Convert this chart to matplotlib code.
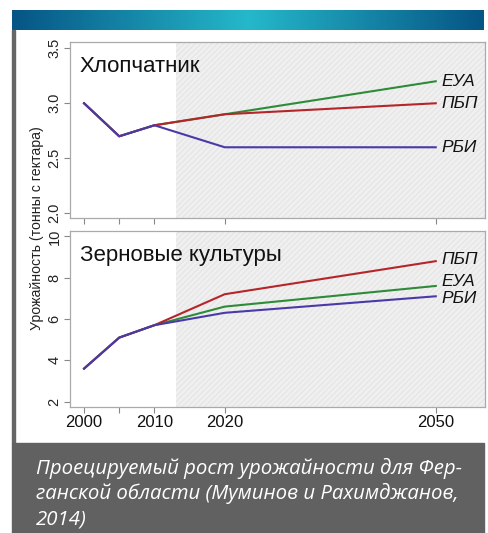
import numpy as np
import matplotlib
matplotlib.use("Agg")
import matplotlib.pyplot as plt
from matplotlib.patches import Rectangle

plt.rcParams['font.family'] = ['Liberation Sans', 'DejaVu Sans']

# data
years = [2000, 2005, 2010, 2020, 2050]
scenarios = ['ЕУА', 'ПБП', 'РБИ']
colors = ['#2e8b3a', '#b5262a', '#4a3aa8']

cotton = {
    'ЕУА': [3.0, 2.7, 2.8, 2.9, 3.2],
    'ПБП': [3.0, 2.7, 2.8, 2.9, 3.0],
    'РБИ': [3.0, 2.7, 2.8, 2.6, 2.6],
}
grain = {
    'ЕУА': [3.6, 5.1, 5.7, 6.6, 7.6],
    'ПБП': [3.6, 5.1, 5.7, 7.2, 8.8],
    'РБИ': [3.6, 5.1, 5.7, 6.3, 7.1],
}
cotton_yticks = [2.0, 2.5, 3.0, 3.5]
grain_yticks = [2, 4, 6, 8, 10]
xtick_labels = ['2000', '', '2010', '2020', '2050']
proj_start = 2013

W, H = 489, 533
fig = plt.figure(figsize=(W / 100, H / 100), dpi=100)

def box(x0, y0, x1, y1):
    # pixel box -> figure fractions
    return [x0 / W, 1 - y1 / H, (x1 - x0) / W, (y1 - y0) / H]

# header gradient band
ax_band = fig.add_axes(box(12, 10, 484, 30))
grad = np.linspace(0, 1, 256)
c_dark = np.array([0x06, 0x55, 0x85]) / 255
c_light = np.array([0x25, 0xb8, 0xca]) / 255
w = 1 - np.abs(grad - 0.5) * 2
img = c_dark[None, :] * (1 - w[:, None]) + c_light[None, :] * w[:, None]
ax_band.imshow(img[None, :, :], aspect='auto')
ax_band.axis('off')

# left border and caption box
fig.patches.append(Rectangle((12 / W, 1 - 443 / H), 3 / W, 413 / H,
                             transform=fig.transFigure, color='#666666', zorder=0))
fig.patches.append(Rectangle((12 / W, 0), 472 / W, 90 / H,
                             transform=fig.transFigure, color='#616161', zorder=0))
caption = ['Проецируемый рост урожайности для Фер-',
           'ганской области (Муминов и Рахимджанов,',
           '2014)']
for i, line in enumerate(caption):
    fig.text(36 / W, 1 - (468 + i * 25.5) / H, line, color='white', style='italic',
             fontsize=14.7, family=['Open Sans', 'DejaVu Sans'], va='center', ha='left')

ax1 = fig.add_axes(box(70, 42, 485, 218))
ax2 = fig.add_axes(box(70, 231, 485, 407))


def draw_panel(ax, data, ylim, yticks, title, offsets, show_x):
    ax.set_xlim(1998, 2057)
    ax.set_ylim(*ylim)
    ax.axvspan(proj_start, 2060, facecolor='#f0f0f0', edgecolor='#e6e6e6',
               hatch='//////', linewidth=0, zorder=0)
    for name, col in zip(scenarios, colors):
        ax.plot(years, data[name], color=col, lw=1.5, zorder=3)
        ax.annotate(name, (years[-1], data[name][-1]), xytext=(4, offsets[name]),
                    textcoords='offset points', ha='left', va='center',
                    style='italic', fontsize=12.5, color='#111111')
    ax.text(0.024, 0.86, title, transform=ax.transAxes, fontsize=16,
            ha='left', va='center', color='#111111')
    ax.set_yticks(yticks)
    ax.set_yticklabels([str(v) for v in yticks], rotation=90, va='center',
                       fontsize=10.5, color='#222222')
    ax.set_xticks(years)
    if show_x:
        ax.set_xticklabels(xtick_labels, fontsize=12, color='#111111')
    else:
        ax.set_xticklabels([])
    ax.tick_params(length=4, color='#888888', width=0.8, pad=2)
    for s in ax.spines.values():
        s.set_color('#aaaaaa')
        s.set_linewidth(0.9)


draw_panel(ax1, cotton, (1.957, 3.557), cotton_yticks, 'Хлопчатник',
           {'ЕУА': 0, 'ПБП': 0, 'РБИ': 0}, False)
draw_panel(ax2, grain, (1.74, 10.26), grain_yticks, 'Зерновые культуры',
           {'ЕУА': 3.5, 'ПБП': 1, 'РБИ': -1.5}, True)

fig.text(37 / W, 1 - 228 / H, 'Урожайность (тонны с гектара)', rotation=90,
         ha='center', va='center', fontsize=10.2, color='#222222')

fig.savefig('out.png', dpi=100)
